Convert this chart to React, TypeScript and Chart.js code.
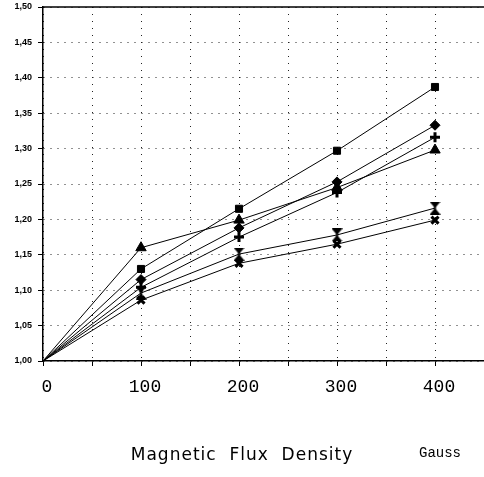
import React, { useEffect, useRef } from "react";
import { Chart, registerables } from "chart.js";

Chart.register(...registerables);

const fluxGauss = [0, 100, 200, 300, 400];
const seriesSquare = [1.0, 1.13, 1.215, 1.297, 1.387];
const seriesTriangle = [1.0, 1.16, 1.199, 1.245, 1.298];
const seriesDiamond = [1.0, 1.115, 1.188, 1.253, 1.333];
const seriesPlus = [1.0, 1.104, 1.175, 1.238, 1.316];
const seriesHourglass = [1.0, 1.096, 1.151, 1.178, 1.216];
const seriesCross = [1.0, 1.086, 1.138, 1.165, 1.199];
const xTickLabels = ["0", "100", "200", "300", "400"];
const axisTitle = "Magnetic  Flux  Density";
const unitLabel = "Gauss";

function makeHourglass(): HTMLCanvasElement {
  const c = document.createElement("canvas");
  c.width = 11;
  c.height = 13;
  const g = c.getContext("2d")!;
  g.fillStyle = "#000";
  g.beginPath();
  g.moveTo(0, 0);
  g.lineTo(11, 0);
  g.lineTo(5.5, 6.5);
  g.closePath();
  g.fill();
  g.beginPath();
  g.moveTo(0, 13);
  g.lineTo(11, 13);
  g.lineTo(5.5, 6.5);
  g.closePath();
  g.fill();
  g.fillRect(4.5, 3, 2, 7);
  return c;
}

export default function App() {
  const ref = useRef<HTMLCanvasElement | null>(null);
  useEffect(() => {
    document.body.style.margin = "0";
    const ctx = ref.current!.getContext("2d")!;
    const mk = (vals: number[]) => vals.map((v, i) => ({ x: fluxGauss[i], y: v }));
    const rad = (r: number) => (c: any) => (c.dataIndex === 0 ? 0 : r);
    const base = {
      borderColor: "#000",
      backgroundColor: "#000",
      pointBackgroundColor: "#000",
      pointBorderColor: "#000",
      borderWidth: 1,
      tension: 0,
      clip: false,
    };
    const hour = makeHourglass();
    const textPlugin = {
      id: "texts",
      afterDraw(chart: any) {
        const c = chart.ctx;
        const a = chart.chartArea;
        c.save();
        c.strokeStyle = "#000";
        c.lineWidth = 1.5;
        c.beginPath();
        c.moveTo(a.left, a.top);
        c.lineTo(a.right, a.top);
        c.stroke();
        c.fillStyle = "#000";
        c.textBaseline = "middle";
        c.textAlign = "center";
        c.font = "17px 'DejaVu Sans'";
        (c as any).letterSpacing = "1px";
        c.fillText(axisTitle, 242, 456);
        (c as any).letterSpacing = "0px";
        c.font = "14px 'Liberation Mono'";
        c.fillText(unitLabel, 440, 453);
        c.restore();
      },
    };
    const gridOpts = {
      color: "#222",
      lineWidth: 1,
      tickLength: 5,
      tickColor: "#000",
    };
    const borderOpts = { display: true, color: "#000", width: 1.5, dash: [1, 6] };
    const chart = new Chart(ctx, {
      type: "line",
      data: {
        datasets: [
          { ...base, label: "a", data: mk(seriesSquare), pointStyle: "rect", pointRadius: rad(5) },
          { ...base, label: "b", data: mk(seriesTriangle), pointStyle: "triangle", pointRadius: rad(6) },
          { ...base, label: "c", data: mk(seriesDiamond), pointStyle: "rectRot", pointRadius: rad(5) },
          { ...base, label: "d", data: mk(seriesPlus), pointStyle: "cross", pointRadius: rad(5), pointBorderWidth: 3 },
          { ...base, label: "e", data: mk(seriesHourglass), pointStyle: hour as any, pointRadius: rad(6) },
          { ...base, label: "f", data: mk(seriesCross), pointStyle: "crossRot", pointRadius: rad(5), pointBorderWidth: 3 },
        ] as any,
      },
      options: {
        animation: false,
        responsive: false,
        maintainAspectRatio: false,
        layout: { autoPadding: false, padding: { top: 7, right: -1, left: 0, bottom: 0 } },
        plugins: { legend: { display: false }, tooltip: { enabled: false } },
        scales: {
          x: {
            type: "linear",
            min: 0,
            max: 450,
            afterFit(scale: any) {
              scale.height = 116;
              scale.paddingLeft = 0;
              scale.paddingRight = 0;
            },
            ticks: {
              stepSize: 50,
              color: "#000",
              padding: 10,
              labelOffset: 4,
              maxRotation: 0,
              autoSkip: false,
              font: { family: "'Liberation Mono'", size: 18 },
              callback: (v: any) => {
                const s = String(v);
                return xTickLabels.includes(s) ? s : "";
              },
            },
            grid: gridOpts as any,
            border: borderOpts as any,
          },
          y: {
            min: 1.0,
            max: 1.5,
            afterFit(scale: any) {
              scale.width = 43;
              scale.paddingTop = 0;
              scale.paddingBottom = 0;
            },
            ticks: {
              stepSize: 0.05,
              color: "#000",
              padding: 6,
              font: { family: "'Liberation Sans'", size: 9, weight: "bold" },
              callback: (v: any) => Number(v).toFixed(2).replace(".", ","),
            },
            grid: gridOpts as any,
            border: borderOpts as any,
          },
        },
      },
      plugins: [textPlugin],
    });
    return () => chart.destroy();
  }, []);
  return <canvas ref={ref} width={484} height={477} style={{ display: "block" }} />;
}
